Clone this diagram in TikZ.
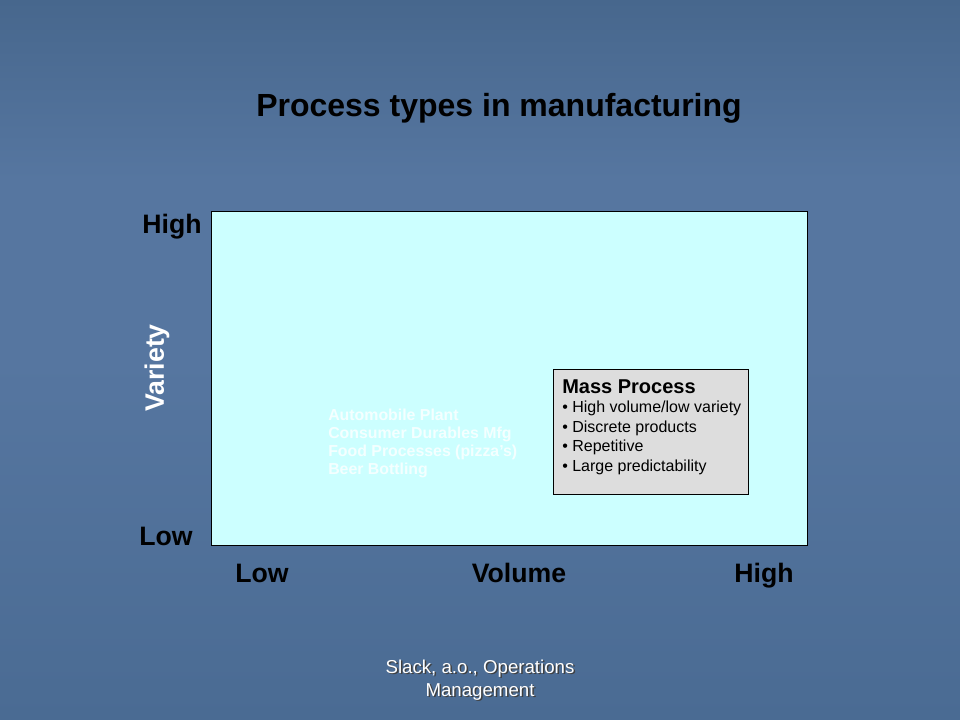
\documentclass[tikz,border=0pt]{standalone}
\usepackage{fontspec}
\setmainfont{Liberation Sans}
\definecolor{bgtop}{HTML}{47678D}
\definecolor{bgmid}{HTML}{5676A0}
\definecolor{bgbot}{HTML}{4A6B93}
\definecolor{plotfill}{HTML}{CCFFFF}
\definecolor{boxfill}{HTML}{DDDDDD}
\definecolor{listwhite}{HTML}{F4FFFF}
\tikzset{
  axislabel/.style={font=\fontsize{20}{24}\selectfont\bfseries, text=black, inner sep=0pt, anchor=base},
  boxline/.style={font=\fontsize{12}{14}\selectfont, text=black, anchor=base west, inner sep=0pt},
  listline/.style={font=\fontsize{11.9}{14}\selectfont\bfseries, text=listwhite, anchor=base west, inner sep=0pt},
  footline/.style={font=\fontsize{14}{17}\selectfont, inner sep=0pt},
}
\begin{document}
\begin{tikzpicture}[x=0.75pt,y=-0.75pt]
\useasboundingbox (0,0) rectangle (960,720);
% background
\shade[top color=bgtop, bottom color=bgmid, middle color=bgmid] (0,0) rectangle (960,360);
\shade[top color=bgmid, bottom color=bgbot] (0,360) rectangle (960,720);
% title
\node[font=\fontsize{24}{28}\selectfont\bfseries, inner sep=0pt, anchor=base] (title) at (499,117) {Process types in manufacturing};
% plot area
\node[draw=black, line width=0.8pt, fill=plotfill, minimum width=596*0.75pt, minimum height=334*0.75pt, inner sep=0pt, anchor=north west] (plot) at (211,211) {};
% axis labels
\node[axislabel] (vhigh) at (172,234) {High};
\node[axislabel] (vlow) at (166,545) {Low};
\node[axislabel] (hlow) at (262,582) {Low};
\node[axislabel] (hvol) at (519,582) {Volume};
\node[axislabel] (hhigh) at (764,582) {High};
\node[font=\fontsize{20}{24}\selectfont\bfseries, text=white, inner sep=0pt, rotate=90] (variety) at (157,368) {Variety};
% white list
\node[listline] (l1) at (328,420) {Automobile Plant};
\node[listline] (l2) at (328,438) {Consumer Durables Mfg};
\node[listline] (l3) at (328,456) {Food Processes (pizza's)};
\node[listline] (l4) at (328,474) {Beer Bottling};
% mass process box
\node[draw=black, line width=0.8pt, fill=boxfill, minimum width=195*0.75pt, minimum height=125*0.75pt, inner sep=0pt, anchor=north west] (mass) at (553,369) {};
\node[font=\fontsize{15}{18}\selectfont\bfseries, anchor=base west, inner sep=0pt] (masst) at (562,393) {Mass Process};
\node[boxline] (b1) at (562,412.5) {• High volume/low variety};
\node[boxline] (b2) at (562,432) {• Discrete products};
\node[boxline] (b3) at (562,451.5) {• Repetitive};
\node[boxline] (b4) at (562,471) {• Large predictability};
% footer
\node[footline, text=black!75, align=center] (fshadow) at (481.5,681.5) {Slack, a.o., Operations\\Management};
\node[footline, text=white, align=center] (foot) at (480,680) {Slack, a.o., Operations\\Management};
\end{tikzpicture}
\end{document}
